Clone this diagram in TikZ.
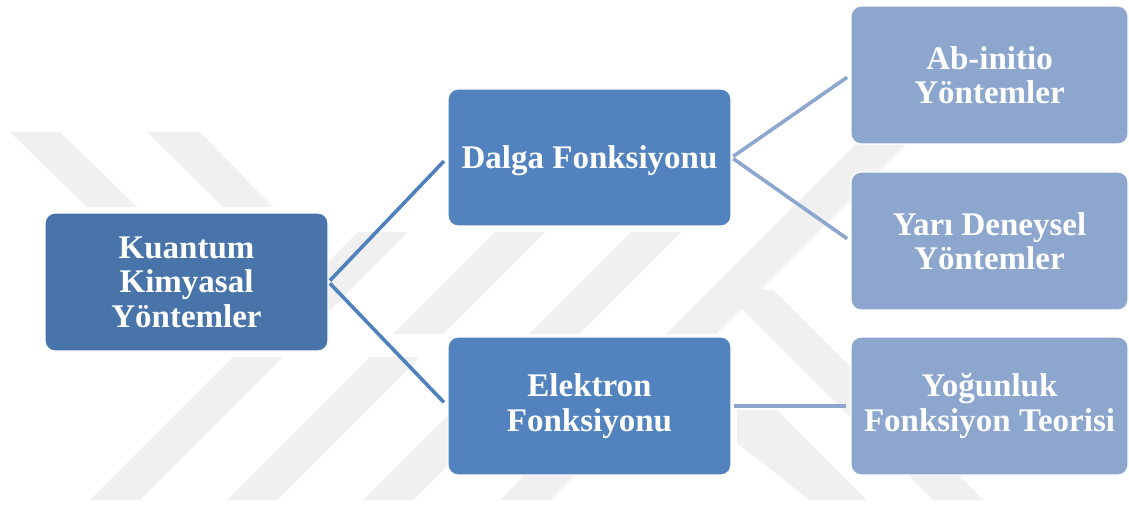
\documentclass[tikz,border=0pt]{standalone}
\usepackage{fontspec}
\setmainfont{Liberation Serif}
\definecolor{cDark}{RGB}{72,116,170}
\definecolor{cMid}{RGB}{83,131,190}
\definecolor{cLight}{RGB}{140,166,206}
\definecolor{cLineL}{RGB}{79,129,189}
\definecolor{cLineR}{RGB}{141,166,206}
\definecolor{wm}{RGB}{240,240,240}
\begin{document}
\begin{tikzpicture}[x=1pt,y=-1pt,
  box/.style={rounded corners=10pt, draw=white, line width=1.2pt, text=white,
    font=\bfseries\fontsize{33}{34.5}\selectfont, align=center, inner sep=0pt,
    minimum height=138pt},
  boxL/.style={box, fill=cDark, minimum width=283pt},
  boxM/.style={box, fill=cMid, minimum width=283pt},
  boxR/.style={box, fill=cLight, minimum width=277pt},
  connL/.style={draw=cLineL, line width=3.6pt, shorten <=2pt, shorten >=5pt},
  connR/.style={draw=cLineR, line width=3.6pt, shorten <=2pt, shorten >=4pt},
  wmark/.style={fill=wm}]
\useasboundingbox (0,0) rectangle (1129,505);
\fill[white] (0,0) rectangle (1129,505);
% watermark
\fill[wmark] (10,132)--(60,132)--(137,207)--(87,207)--cycle;
\fill[wmark] (147,132)--(200,132)--(273,207)--(223,207)--cycle;
\fill[wmark] (90,500)--(140,500)--(283,357)--(233,357)--cycle;
\fill[wmark] (227,500)--(277,500)--(420,357)--(370,357)--cycle;
\fill[wmark] (363,500)--(413,500)--(556,357)--(506,357)--cycle;
\fill[wmark] (500,500)--(550,500)--(693,357)--(643,357)--cycle;
\fill[wmark] (256,334)--(306,334)--(408,232)--(358,232)--cycle;
\fill[wmark] (393,334)--(443,334)--(545,232)--(495,232)--cycle;
\fill[wmark] (529,334)--(579,334)--(681,232)--(631,232)--cycle;
\fill[wmark] (666,334)--(716,334)--(910,140)--(860,140)--cycle;
\fill[wmark] (723,290)--(773,290)--(983,500)--(933,500)--cycle;
\fill[wmark] (737,410)--(777,410)--(867,500)--(810,500)--(737,443)--cycle;
% nodes
\node[boxL] (kq) at (186.5,282) {Kuantum\\Kimyasal\\Yöntemler};
\node[boxM, minimum height=137pt] (dalga) at (589.5,157.5) {\raisebox{-3pt}[\height][\depth]{Dalga Fonksiyonu}};
\node[boxM] (elek) at (589.5,406) {Elektron\\Fonksiyonu};
\node[boxR] (ab) at (989.5,75) {Ab-initio\\Yöntemler};
\node[boxR] (yari) at (989.5,241) {Yarı Deneysel\\Yöntemler};
\node[boxR] (yog) at (989.5,406) {Yoğunluk\\Fonksiyon Teorisi};
% connectors
\draw[connL] (kq.east) -- (dalga.west);
\draw[connL] (kq.east) -- (elek.west);
\draw[connR] (dalga.east) -- (ab.west);
\draw[connR] (dalga.east) -- (yari.west);
\draw[connR] (elek.east) -- (yog.west);
\end{tikzpicture}
\end{document}
